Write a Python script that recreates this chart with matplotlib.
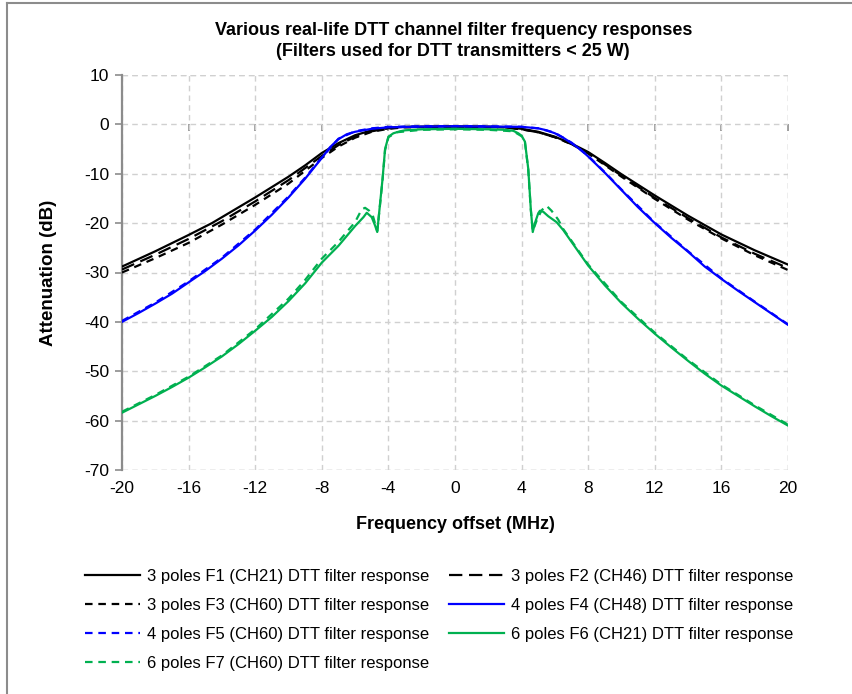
import matplotlib
matplotlib.use("Agg")
import matplotlib.pyplot as plt
from matplotlib.lines import Line2D

# Frequency offsets (MHz) and measured attenuation (dB) for each filter
f1_freq = [-20, -18, -16, -14.6, -14, -12, -10, -9, -8, -7, -6, -5, -4, -3, -2, 0,
           2, 3, 4, 5, 6, 7, 8, 9, 10, 12, 14, 16, 18, 20]
f1_db = [-28.8, -25.7, -22.4, -20.0, -18.8, -14.8, -10.6, -8.3, -5.8, -3.8, -2.2, -1.2, -0.7, -0.5, -0.45, -0.4,
         -0.45, -0.55, -0.9, -1.5, -2.5, -3.9, -5.6, -7.8, -10.1, -14.4, -18.5, -22.3, -25.5, -28.4]

f2_freq = [-20, -18, -16, -14, -12, -10, -8, -7, -6, -5, -4, -3, 0,
           3, 4, 5, 6, 7, 8, 10, 12, 14, 16, 18, 20]
f2_db = [-29.4, -26.4, -23.2, -19.6, -15.6, -11.3, -6.4, -4.2, -2.5, -1.4, -0.8, -0.55, -0.45,
         -0.6, -1.0, -1.6, -2.6, -4.0, -5.8, -10.4, -14.9, -19.0, -22.9, -26.2, -29.1]

f3_freq = [-20, -18, -16, -14, -12, -10, -8, -7, -6, -5, -4, -3, 0,
           3, 4, 5, 6, 7, 8, 10, 12, 14, 16, 18, 20]
f3_db = [-30.0, -27.1, -24.0, -20.3, -16.3, -12.0, -6.8, -4.5, -2.7, -1.5, -0.9, -0.6, -0.5,
         -0.6, -1.0, -1.6, -2.6, -4.0, -5.9, -10.6, -15.1, -19.3, -23.1, -26.5, -29.5]

f4_freq = [-20, -19, -18, -17, -16, -15, -14, -13, -12, -11, -10, -9, -8, -7.5, -7, -6.5, -6, -5, -4, -2, 0,
           2, 4, 5, 5.5, 6, 6.5, 7, 7.5, 8, 9, 10, 11, 12, 13, 14, 15, 16, 17, 18, 19, 20]
f4_db = [-40.0, -38.2, -36.3, -34.3, -32.0, -29.7, -27.2, -24.5, -21.5, -18.3, -14.8, -11.0, -6.8, -4.6, -3.0, -2.0, -1.5, -0.9, -0.6, -0.45, -0.4,
         -0.45, -0.5, -0.8, -1.2, -1.8, -2.7, -3.8, -5.0, -6.5, -9.8, -13.3, -16.8, -20.0, -23.0, -25.8, -28.8, -31.3, -33.7, -36.0, -38.3, -40.6]

f5_freq = [-20, -18, -16, -14, -12, -10, -9, -8, -7, -6, -5, -4, -2, 0,
           2, 4, 5, 6, 7, 8, 9, 10, 12, 14, 16, 18, 20]
f5_db = [-39.8, -36.1, -31.8, -27.0, -21.3, -14.6, -10.8, -6.7, -2.9, -1.4, -0.8, -0.5, -0.4, -0.35,
         -0.4, -0.5, -0.8, -1.7, -3.7, -6.4, -9.7, -13.2, -19.9, -25.7, -31.2, -35.9, -40.5]

f6_freq = [-20, -19, -18, -17, -16, -15, -14, -13, -12, -11, -10, -9, -8, -7, -6.5, -6, -5.5, -5.3, -5.0,
           -4.8, -4.67, -4.5, -4.35, -4.2, -4.0, -3.7, -3.3, -3, -2, 0,
           2, 3, 3.5, 3.8, 4.0, 4.2, 4.4, 4.55, 4.67, 4.8, 5.0, 5.1, 5.3, 5.6, 6.1, 6.5, 7.0, 7.5, 8,
           9, 10, 11, 12, 13, 14, 15, 16, 17, 18, 19, 20]
f6_db = [-58.4, -56.7, -55.0, -53.2, -51.3, -49.2, -47.0, -44.5, -41.8, -39.0, -35.8, -32.2, -28.0, -24.6, -22.6, -20.6, -18.8, -17.9, -18.8,
         -20.5, -21.8, -16.0, -11.0, -5.0, -2.5, -1.8, -1.4, -1.2, -1.0, -0.9,
         -1.0, -1.1, -1.3, -1.8, -2.3, -3.5, -9.0, -17.0, -21.8, -20.0, -18.0, -17.5, -17.7, -18.6, -19.8, -21.4, -23.8, -26.2, -28.6,
         -32.6, -36.2, -39.4, -42.4, -45.2, -47.9, -50.5, -52.9, -55.0, -57.1, -59.1, -61.0]

f7_freq = [-20, -18, -16, -14, -12, -10, -9, -8, -7, -6, -5.6, -5.4, -5.15, -4.95,
           -4.67, -4.5, -4.35, -4.2, -4.0, -3.5, -2, 0,
           2, 3.5, 4.0, 4.2, 4.4, 4.55, 4.67, 4.9, 5.2, 5.5, 5.8, 6.2, 6.5, 7.0, 7.5, 8,
           10, 12, 14, 16, 18, 20]
f7_db = [-58.2, -54.8, -51.1, -46.8, -41.5, -35.3, -31.5, -27.2, -23.8, -19.8, -17.2, -16.9, -17.5, -18.3,
         -21.6, -16.2, -11.2, -5.2, -2.6, -1.6, -1.1, -1.0,
         -1.1, -1.4, -2.4, -3.6, -9.2, -17.2, -21.6, -19.5, -17.4, -16.5, -17.5, -19.3, -21.2, -23.6, -26.0, -28.4,
         -36.0, -42.2, -47.7, -52.7, -56.9, -60.8]

labels = [
    "3 poles F1 (CH21) DTT filter response",
    "3 poles F2 (CH46) DTT filter response",
    "3 poles F3 (CH60) DTT filter response",
    "4 poles F4 (CH48) DTT filter response",
    "4 poles F5 (CH60) DTT filter response",
    "6 poles F6 (CH21) DTT filter response",
    "6 poles F7 (CH60) DTT filter response",
]

x_ticks = [-20, -16, -12, -8, -4, 0, 4, 8, 12, 16, 20]
y_ticks = [10, 0, -10, -20, -30, -40, -50, -60, -70]

BLACK = "#000000"
BLUE = "#0000FF"
GREEN = "#00B050"
GRID = "#D0D0D0"
AXIS = "#8C8C8C"

plt.rcParams["font.family"] = ["Liberation Sans", "DejaVu Sans"]
plt.rcParams["axes.unicode_minus"] = False

fig = plt.figure(figsize=(8.53, 6.94), dpi=100)
ax = fig.add_axes([122 / 853, 1 - 470 / 694, (788 - 122) / 853, (470 - 75) / 694])

lw = 1.6
series = [
    (f1_freq, f1_db, BLACK, "-"),
    (f2_freq, f2_db, BLACK, (0, (6, 3))),
    (f3_freq, f3_db, BLACK, (0, (3.4, 2.6))),
    (f4_freq, f4_db, BLUE, "-"),
    (f5_freq, f5_db, BLUE, (0, (3.4, 2.6))),
    (f6_freq, f6_db, GREEN, "-"),
    (f7_freq, f7_db, GREEN, (0, (3.4, 2.6))),
]
handles = []
for (fx, fy, col, ls), lab in zip(series, labels):
    h, = ax.plot(fx, fy, color=col, linestyle=ls, linewidth=lw, label=lab, zorder=3)
    handles.append(h)

ax.set_xlim(-20, 20)
ax.set_ylim(-70, 10)
ax.set_xticks(x_ticks)
ax.set_yticks(y_ticks)
ax.tick_params(axis="x", length=0, labelsize=12.5, pad=8)
ax.tick_params(axis="y", length=5, width=1.2, color=AXIS, direction="out", labelsize=12.5, pad=4)

# dashed grid, including the frame lines at the plot edges
ax.grid(True, color=GRID, linestyle=(0, (4, 3)), linewidth=1.0, zorder=0)
for side in ("top", "right", "bottom"):
    ax.spines[side].set_visible(False)
ax.spines["left"].set_color(AXIS)
ax.spines["left"].set_linewidth(1.6)
ax.axhline(-70, color=GRID, linestyle=(0, (4, 3)), linewidth=1.0, zorder=0)
ax.axhline(10, color=GRID, linestyle=(0, (4, 3)), linewidth=1.0, zorder=0)
ax.axvline(20, color=GRID, linestyle=(0, (4, 3)), linewidth=1.0, zorder=0)

# horizontal axis line crossing at 0 dB, with its own tick marks
zero_pos = (0 - (-70)) / (10 - (-70))
sec = ax.secondary_xaxis(zero_pos)
sec.set_xticks(x_ticks)
sec.tick_params(axis="x", direction="out", length=5, width=1.2, color=AXIS, labelbottom=False, labeltop=False, top=False, bottom=True)
sec.spines["top"].set_visible(False)
sec.spines["bottom"].set_color(AXIS)
sec.spines["bottom"].set_linewidth(1.6)
sec.spines["bottom"].set_zorder(2)

ax.set_xlabel("Frequency offset (MHz)", fontsize=13, fontweight="bold", labelpad=14)
ax.set_ylabel("Attenuation (dB)", fontsize=13.5, fontweight="bold", labelpad=20)

fig.text(0.5 * (122 + 788) / 853 - 0.002, 1 - 41 / 694,
         "Various real-life DTT channel filter frequency responses\n(Filters used for DTT transmitters < 25 W)",
         ha="center", va="center", fontsize=13, fontweight="bold", linespacing=1.35)

# legend filled row by row over two columns
order = [0, 2, 4, 6, 1, 3, 5]
leg = fig.legend([handles[i] for i in order], [labels[i] for i in order],
                 loc="upper left", bbox_to_anchor=(70 / 853, 1 - 554 / 694), ncol=2, frameon=False,
                 prop={"family": ["Liberation Sans Narrow", "Liberation Sans"], "size": 12},
                 handlelength=3.3, handletextpad=0.4, columnspacing=1.2, labelspacing=0.84)

# chart border
fig.add_artist(Line2D([7 / 853, 7 / 853], [0, 1 - 3 / 694], transform=fig.transFigure, color=AXIS, linewidth=1.5))
fig.add_artist(Line2D([7 / 853, 1], [1 - 3 / 694, 1 - 3 / 694], transform=fig.transFigure, color=AXIS, linewidth=1.5))

fig.savefig("out.png", dpi=100)
